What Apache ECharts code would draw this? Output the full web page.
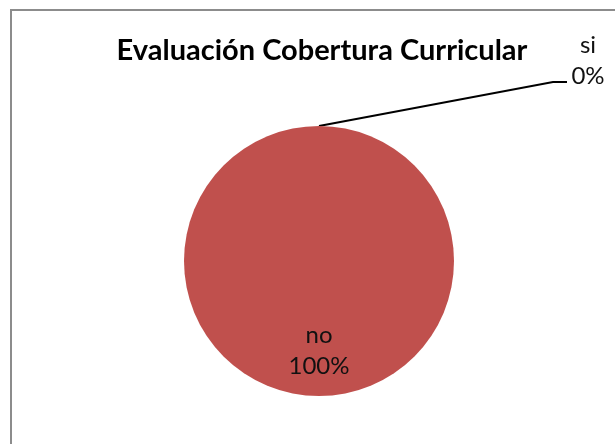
<!DOCTYPE html>
<html>
<head>
<meta charset="utf-8">
<script src="https://cdn.jsdelivr.net/npm/echarts@6/dist/echarts.min.js"></script>
<style>
html,body{margin:0;padding:0;background:#fff;}
#chart{width:615px;height:444px;}
</style>
</head>
<body>
<div id="chart"></div>
<script>
const titleText = 'Evaluación Cobertura Curricular';
const categories = ['si', 'no'];
const values = [0, 100];

const FONT = 'Lato';
const TITLE_FONT = 'Lato';
const pieCenter = [319, 261];
const pieRadius = 135;

const chart = echarts.init(document.getElementById('chart'), null, {renderer: 'canvas'});

const data = categories.map((c, i) => ({
  name: c,
  value: values[i],
  label: i === 0 ? {position: 'outside'} : {position: 'inside'},
  labelLine: {show: i === 0}
}));

chart.setOption({
  animation: false,
  backgroundColor: '#fff',
  title: {
    text: titleText,
    left: 317,
    textAlign: 'center',
    top: 31,
    textStyle: {fontFamily: TITLE_FONT, fontWeight: 'bold', fontSize: 29, color: '#000'}
  },
  graphic: [{
    type: 'rect',
    shape: {x: 11, y: 10, width: 700, height: 500},
    style: {fill: 'none', stroke: '#8c8c8c', lineWidth: 2},
    silent: true
  }],
  series: [{
    type: 'pie',
    center: pieCenter,
    radius: pieRadius,
    startAngle: 90,
    clockwise: true,
    avoidLabelOverlap: false,
    silent: true,
    color: ['#C0504D', '#C0504D'],
    itemStyle: {borderWidth: 0},
    label: {
      formatter: '{b}\n{d}%',
      fontFamily: FONT,
      fontSize: 24,
      lineHeight: 31,
      color: '#111',
      align: 'center'
    },
    labelLine: {lineStyle: {color: '#000', width: 2}, length: 10, length2: 10},
    labelLayout: function (params) {
      if (params.dataIndex === 0) {
        const top = [pieCenter[0], pieCenter[1] - pieRadius];
        return {
          x: 588, y: 61, align: 'center', verticalAlign: 'middle',
          labelLinePoints: [top, [553, 82], [567, 82]]
        };
      }
      return {dy: 19};
    },
    data: data
  }]
});
</script>
</body>
</html>
